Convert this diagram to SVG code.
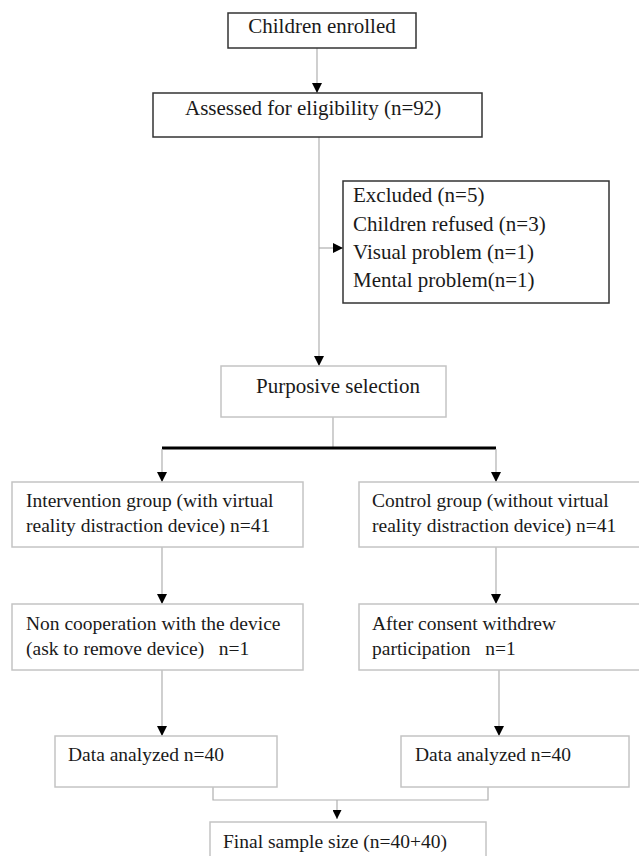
<svg xmlns="http://www.w3.org/2000/svg" width="639" height="856" viewBox="0 0 639 856">
<style>
  .dark { fill: #ffffff; stroke: #333333; stroke-width: 1.5; }
  .light { fill: #ffffff; stroke: #c4c4c4; stroke-width: 1.5; }
  .t { font-family: "Liberation Serif", "Times New Roman", serif; fill: #1a1a1a; }
  .big { font-size: 21px; }
  .small { font-size: 19.5px; }
  .conn { stroke: #b0b0b0; stroke-width: 1.2; fill: none; }
  .thick { stroke: #000000; stroke-width: 3; fill: none; }
</style>
<defs>
  <marker id="arrow" markerUnits="userSpaceOnUse" markerWidth="10" markerHeight="10" viewBox="0 0 10 10" refX="10" refY="5" orient="auto">
    <path d="M0,0 L10,5 L0,10 Z" fill="#000000"/>
  </marker>
  <marker id="arrowS" markerUnits="userSpaceOnUse" markerWidth="9" markerHeight="9" viewBox="0 0 10 10" refX="10" refY="5" orient="auto">
    <path d="M0,0 L10,5 L0,10 Z" fill="#000000"/>
  </marker>
</defs>
<rect width="639" height="856" fill="#ffffff"/>

<g id="connectors">
  <line class="conn" x1="317" y1="48" x2="317" y2="93" marker-end="url(#arrow)"/>
  <line class="conn" x1="319" y1="137" x2="319" y2="366" marker-end="url(#arrow)"/>
  <line class="conn" x1="319" y1="248" x2="343" y2="248" marker-end="url(#arrow)"/>
  <line class="conn" x1="333" y1="417" x2="333" y2="448"/>
  <line class="thick" x1="162" y1="448" x2="496" y2="448"/>
  <line class="conn" x1="162" y1="449" x2="162" y2="482" marker-end="url(#arrow)"/>
  <line class="conn" x1="496" y1="449" x2="496" y2="482" marker-end="url(#arrow)"/>
  <line class="conn" x1="162" y1="547" x2="162" y2="604" marker-end="url(#arrow)"/>
  <line class="conn" x1="496" y1="547" x2="496" y2="604" marker-end="url(#arrow)"/>
  <line class="conn" x1="162" y1="670" x2="162" y2="736" marker-end="url(#arrow)"/>
  <line class="conn" x1="499" y1="670" x2="499" y2="736" marker-end="url(#arrow)"/>
  <polyline class="conn" points="213,787 213,800 488,800 488,787"/>
  <line class="conn" x1="337" y1="800" x2="337" y2="819" marker-end="url(#arrowS)"/>
</g>

<g id="node-enrolled">
  <rect class="dark" x="228" y="13" width="188" height="35"/>
  <text class="t big" x="322" y="33" text-anchor="middle">Children enrolled</text>
</g>

<g id="node-assessed">
  <rect class="dark" x="153" y="93" width="329" height="44"/>
  <text class="t big" x="185" y="115">Assessed for eligibility (n=92)</text>
</g>

<g id="node-excluded">
  <rect class="dark" x="343" y="181" width="266" height="122"/>
  <text class="t big" x="353" y="202">Excluded (n=5)</text>
  <text class="t big" x="353" y="231">Children refused (n=3)</text>
  <text class="t big" x="353" y="259">Visual problem (n=1)</text>
  <text class="t big" x="353" y="287">Mental problem(n=1)</text>
</g>

<g id="node-purposive">
  <rect class="light" x="221" y="366" width="225" height="51"/>
  <text class="t big" x="256" y="393">Purposive selection</text>
</g>

<g id="node-intervention">
  <rect class="light" x="12" y="482" width="291" height="65"/>
  <text class="t small" x="26" y="507">Intervention group (with virtual</text>
  <text class="t small" x="26" y="532">reality distraction device) n=41</text>
</g>

<g id="node-control">
  <rect class="light" x="359" y="482" width="290" height="65"/>
  <text class="t small" x="372" y="507">Control group (without virtual</text>
  <text class="t small" x="372" y="532">reality distraction device) n=41</text>
</g>

<g id="node-noncoop">
  <rect class="light" x="12" y="604" width="291" height="66"/>
  <text class="t small" x="26" y="630">Non cooperation with the device</text>
  <text class="t small" x="26" y="655" xml:space="preserve">(ask to remove device)   n=1</text>
</g>

<g id="node-withdrew">
  <rect class="light" x="359" y="604" width="290" height="66"/>
  <text class="t small" x="372" y="630">After consent withdrew</text>
  <text class="t small" x="372" y="655" xml:space="preserve">participation   n=1</text>
</g>

<g id="node-data-left">
  <rect class="light" x="55" y="736" width="222" height="51"/>
  <text class="t small" x="68" y="761">Data analyzed n=40</text>
</g>

<g id="node-data-right">
  <rect class="light" x="401" y="736" width="228" height="51"/>
  <text class="t small" x="415" y="761">Data analyzed n=40</text>
</g>

<g id="node-final">
  <rect class="light" x="210" y="822" width="276" height="50"/>
  <text class="t small" x="223" y="848">Final sample size (n=40+40)</text>
</g>
</svg>
